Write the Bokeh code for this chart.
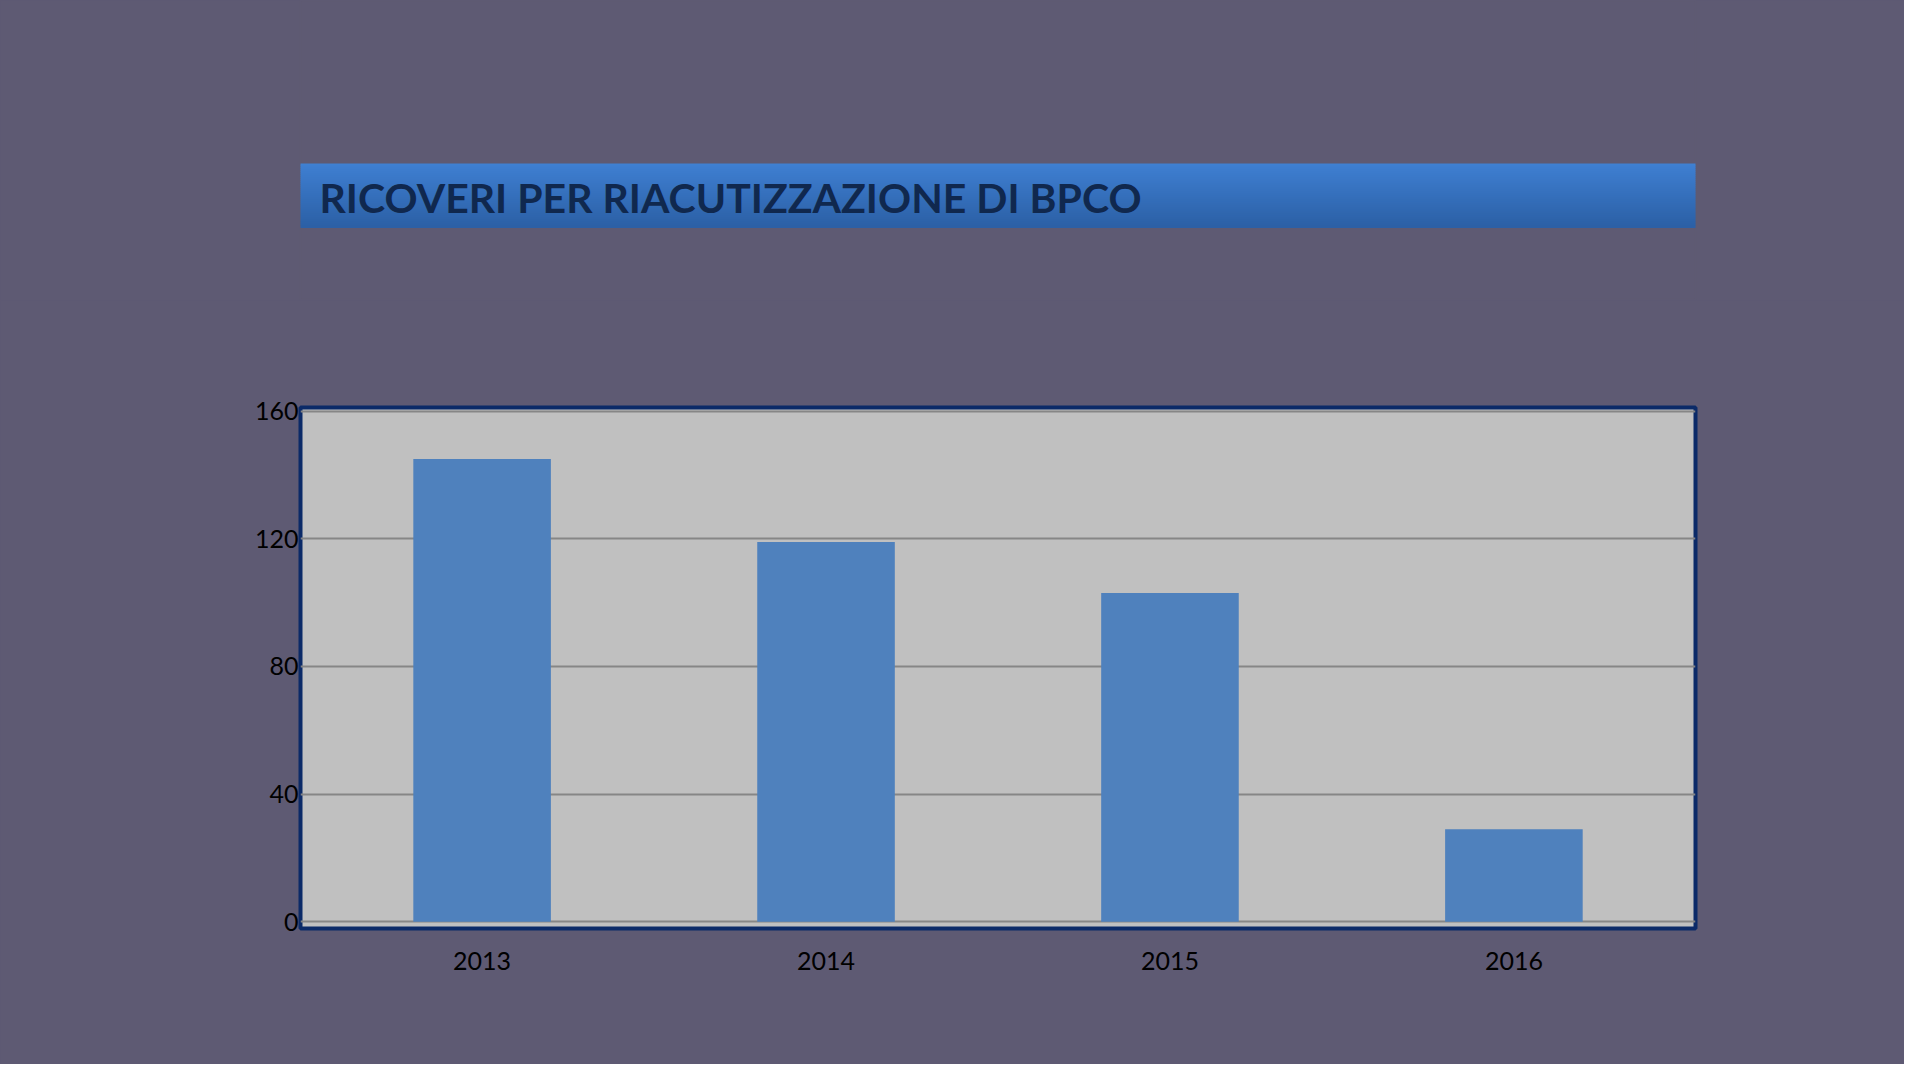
import numpy as np
from bokeh.plotting import figure
from bokeh.layouts import column
from bokeh.models import FactorRange, Range1d, FixedTicker
from bokeh.core.properties import value
from bokeh.embed import file_html
from bokeh.resources import INLINE

# ---------------- data ----------------
years = ["2013", "2014", "2015", "2016"]
ricoveri = [145, 119, 103, 29]
y_ticks = [0, 40, 80, 120, 160]
title_text = "RICOVERI PER RIACUTIZZAZIONE  DI  BPCO"

# ---------------- style / layout ----------------
BG = "#5e5a73"
PLOT_BG = "#c0c0c0"
BAR = "#4f81bd"
FRAME = "#0b2a68"
TITLE_COLOR = "#10284e"
W = 1904
HEAD_H = 300
MAIN_H = 764
LEFT, RIGHT = 300, 209

# header with title banner (frame aligned with the chart frame by the layout)
head = figure(width=W, height=HEAD_H, x_range=Range1d(LEFT, W - RIGHT), y_range=Range1d(HEAD_H, 0),
              output_backend="svg", toolbar_location=None,
              min_border_left=LEFT, min_border_right=RIGHT, min_border_top=0, min_border_bottom=0)
head.axis.visible = False
head.grid.visible = False
head.outline_line_color = BG
head.outline_line_width = 2
head.background_fill_color = BG
head.border_fill_color = BG
head.styles = {"background-color": BG}

n = 32
edges = np.linspace(163, 227, n + 1)
c0 = np.array([0x3f, 0x80, 0xd2])
c1 = np.array([0x2c, 0x60, 0xa6])
cols = ["#%02x%02x%02x" % tuple(int(v) for v in c0 + (c1 - c0) * t) for t in np.linspace(0, 1, n)]
head.quad(left=294, right=1701, top=edges[:-1], bottom=edges[1:] + 0.5, fill_color=cols, line_color=None)
head.text(x=[319], y=[197], text=[title_text], text_font=value("Lato"), text_font_style="bold",
          text_font_size="41px", text_color=TITLE_COLOR, text_baseline="alphabetic", text_align="left")

# main chart
p = figure(width=W, height=MAIN_H, x_range=FactorRange(factors=years, range_padding=0.014),
           y_range=Range1d(-2.1, 161.1), output_backend="svg", toolbar_location=None,
           min_border_left=LEFT, min_border_right=RIGHT, min_border_top=107, min_border_bottom=136)
p.background_fill_color = PLOT_BG
p.border_fill_color = BG
p.styles = {"background-color": BG}
p.outline_line_color = FRAME
p.outline_line_width = 4

p.vbar(x=years, top=ricoveri, width=0.4, fill_color=BAR, line_color=None)

p.xgrid.visible = False
p.ygrid.ticker = FixedTicker(ticks=y_ticks)
p.ygrid.grid_line_color = "#868686"
p.ygrid.grid_line_width = 2

p.yaxis.ticker = FixedTicker(ticks=y_ticks)
for ax in (p.xaxis, p.yaxis):
    ax.axis_line_color = None
    ax.major_tick_line_color = None
    ax.minor_tick_line_color = None
    ax.major_tick_in = 0
    ax.major_tick_out = 0
    ax.major_label_text_font = "Lato"
    ax.major_label_text_font_size = "25px"
    ax.major_label_text_color = "#000000"
p.yaxis.major_label_standoff = 2
p.xaxis.major_label_standoff = 23

layout = column(head, p, spacing=0, styles={"background-color": BG})
open("out.html", "w").write(file_html(layout, INLINE))
